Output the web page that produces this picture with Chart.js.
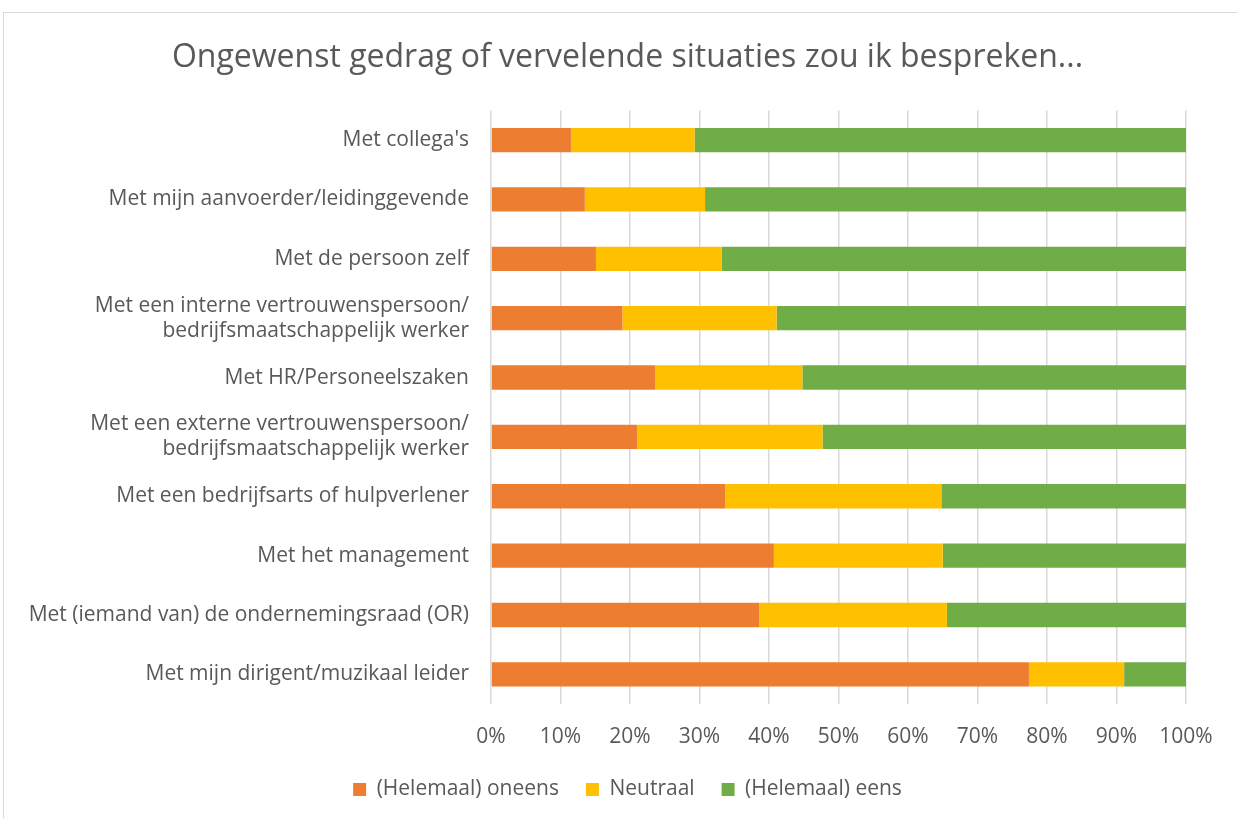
<!DOCTYPE html>
<html><head><meta charset="utf-8">
<script src="https://cdn.jsdelivr.net/npm/chart.js@4"></script>
<style>html,body{margin:0;padding:0;background:#fff;}#wrap{width:1237px;height:818px;position:relative;}</style>
</head><body><div id="wrap"><canvas id="c" width="1237" height="818"></canvas></div>
<script>
const categories = [
  "Met collega's",
  "Met mijn aanvoerder/leidinggevende",
  "Met de persoon zelf",
  ["Met een interne vertrouwenspersoon/", "bedrijfsmaatschappelijk werker"],
  "Met HR/Personeelszaken",
  ["Met een externe vertrouwenspersoon/", "bedrijfsmaatschappelijk werker"],
  "Met een bedrijfsarts of hulpverlener",
  "Met het management",
  "Met (iemand van) de ondernemingsraad (OR)",
  "Met mijn dirigent/muzikaal leider"
];
const oneens = [11.5, 13.5, 15.1, 18.9, 23.6, 21.0, 33.7, 40.7, 38.6, 77.4];
const neutraal = [17.8, 17.3, 18.1, 22.2, 21.2, 26.7, 31.1, 24.3, 27.0, 13.7];
const eens = [70.7, 69.2, 66.8, 58.9, 55.2, 52.3, 35.2, 35.0, 34.4, 8.9];
const xTicks = ["0%","10%","20%","30%","40%","50%","60%","70%","80%","90%","100%"];
const seriesNames = ["(Helemaal) oneens", "Neutraal", "(Helemaal) eens"];
const titleText = "Ongewenst gedrag of vervelende situaties zou ik bespreken...";

const FONT = "'Open Sans'";
const TXT = "#595959";

const frame = {
  id: 'frame',
  beforeDraw(chart) {
    const ctx = chart.ctx;
    ctx.save();
    ctx.fillStyle = '#fff';
    ctx.fillRect(0, 0, chart.width, chart.height);
    ctx.strokeStyle = '#d9d9d9';
    ctx.lineWidth = 1;
    ctx.strokeRect(3.5, 12.5, chart.width + 10, chart.height + 10);
    ctx.restore();
  }
};

new Chart(document.getElementById('c'), {
  type: 'bar',
  data: {
    labels: categories,
    datasets: [
      { label: seriesNames[0], data: oneens, backgroundColor: '#ED7D31' },
      { label: seriesNames[1], data: neutraal, backgroundColor: '#FFC000' },
      { label: seriesNames[2], data: eens, backgroundColor: '#70AD47' }
    ]
  },
  options: {
    indexAxis: 'y',
    responsive: false,
    animation: false,
    layout: { padding: { left: 18, right: 0, top: 0, bottom: 8 } },
    datasets: { bar: { categoryPercentage: 1, barPercentage: 0.41 } },
    scales: {
      x: {
        stacked: true, min: 0, max: 100,
        ticks: { stepSize: 10, color: TXT, font: { family: FONT, size: 21 }, padding: 20,
          callback: (v, i) => xTicks[i] },
        grid: { color: '#d9d9d9', lineWidth: 1.5, drawTicks: false },
        border: { display: false },
        afterFit(scale) { scale.height = 48; }
      },
      y: {
        stacked: true,
        ticks: { color: TXT, font: { family: FONT, size: 21 }, padding: 14 },
        grid: { display: false },
        border: { display: false },
        afterFit(scale) { scale.width = 473; }
      },
      yRight: {
        type: 'category', position: 'right', display: true,
        ticks: { display: false },
        grid: { display: false, drawTicks: false },
        border: { display: false },
        afterFit(scale) { scale.width = 51; }
      }
    },
    plugins: {
      title: { display: true, text: titleText, color: TXT,
        font: { family: FONT, size: 32, weight: 'normal' }, padding: { top: 39, bottom: 33 } },
      legend: { position: 'bottom',
        labels: { color: TXT, font: { family: FONT, size: 21 }, boxWidth: 13, boxHeight: 13, padding: 27 } },
      tooltip: { enabled: false }
    }
  },
  plugins: [frame]
});
</script></body></html>
